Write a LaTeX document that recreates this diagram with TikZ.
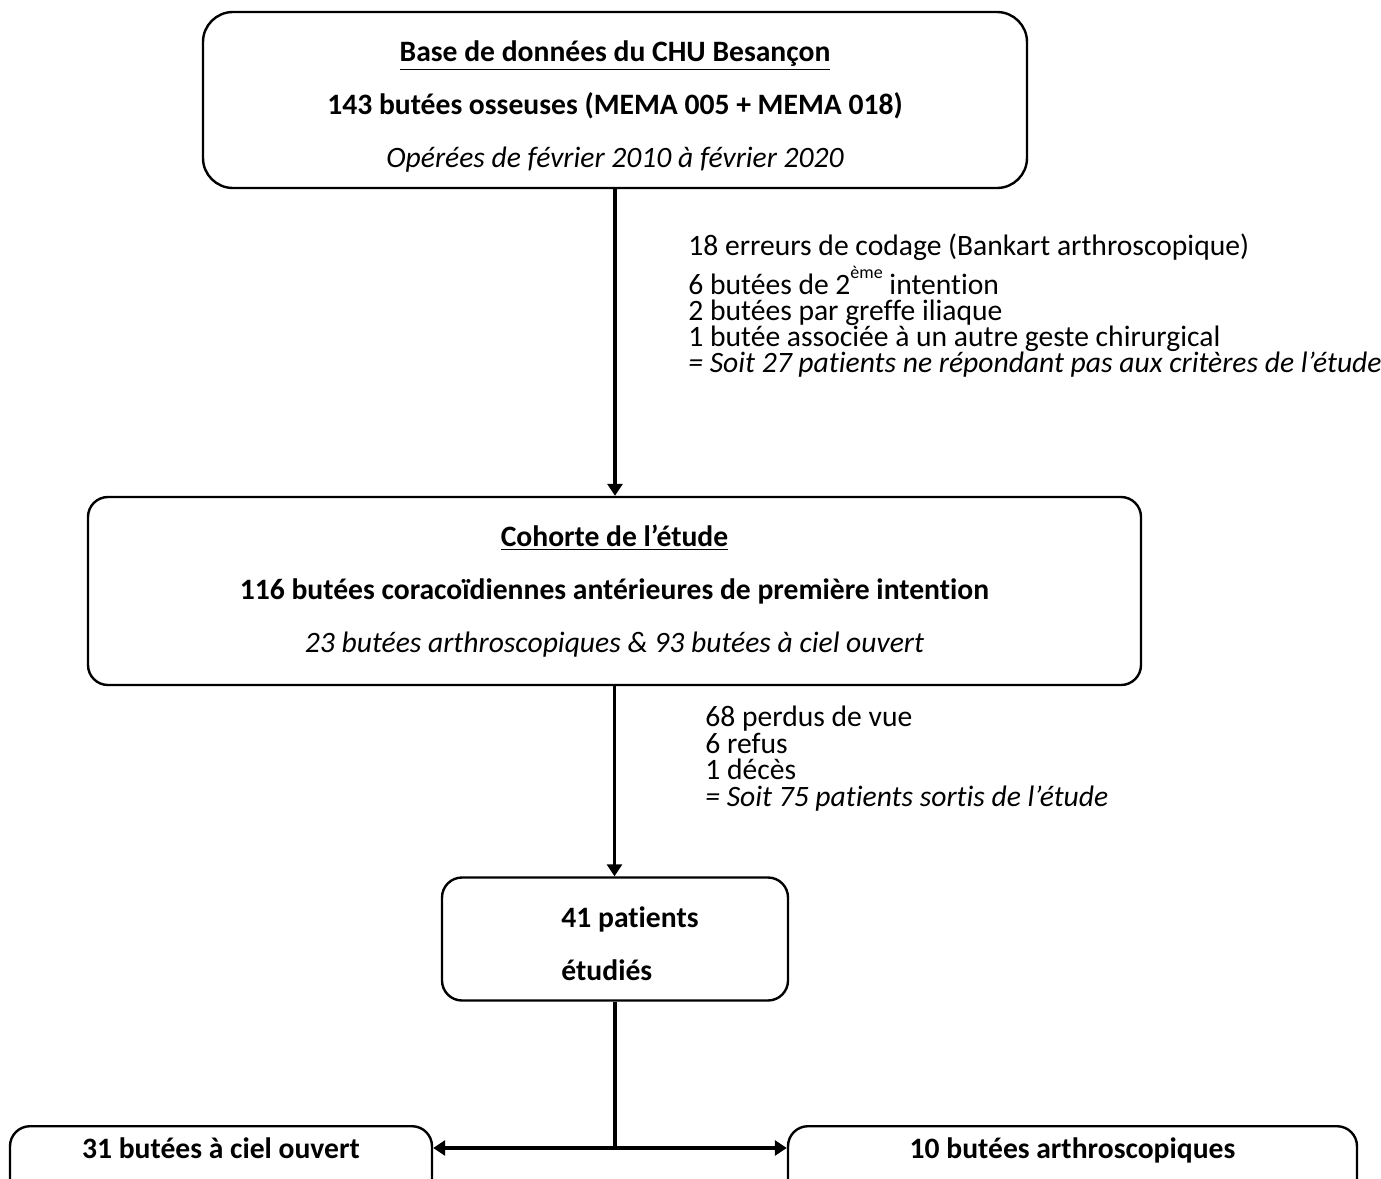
\documentclass[tikz,border=0pt]{standalone}
\usepackage{fontspec}
\setmainfont{Carlito}[Ligatures=NoCommon]
\usetikzlibrary{arrows.meta,positioning}

\begin{document}
\begin{tikzpicture}[x=0.5pt,y=-0.5pt,
  box/.style={draw, line width=1.2pt, rounded corners=10pt, align=center, font=\fontsize{14.8}{26.5}\selectfont},
  leaf/.style={draw, line width=1.2pt, rounded corners=10pt, anchor=north, inner ysep=0pt, text height=16pt, text depth=45pt, font=\bfseries\fontsize{14.8}{14.8}\selectfont},
  item/.style={anchor=base west, inner sep=0pt, text height=10pt, text depth=2.5pt, font=\fontsize{14.8}{14.8}\selectfont},
  flow/.style={line width=1.8pt, -{Triangle[length=6pt,width=7.5pt]}}]
\useasboundingbox (0,0) rectangle (1381,1178);
\clip (0,0) rectangle (1381,1178);

\node[box, rounded corners=15pt, minimum width=412pt, minimum height=88pt] (base) at (615,100) {\rule{0pt}{17pt}\textbf{\underline{Base de données du CHU Besançon}}\\ \textbf{143 butées osseuses (MEMA 005 + MEMA 018)}\\ \textit{Opérées de février 2010 à février 2020}};
\node[box, minimum width=526.5pt, minimum height=94pt] (cohort) at (614.5,591) {\textbf{\underline{Cohorte de l’étude}}\\ \textbf{116 butées coracoïdiennes antérieures de première intention}\\ \textit{23 butées arthroscopiques \& 93 butées à ciel ouvert}};
\node[box, align=left, font=\bfseries\fontsize{14.8}{26.5}\selectfont, minimum width=173pt, minimum height=61.5pt] (studied) at (615,939) {\rule{0pt}{15pt}\hspace*{15pt}41 patients\\ \hspace*{15pt}étudiés};
\node[leaf, minimum width=211pt] (open) at (221,1125) {31 butées à ciel ouvert};
\node[leaf, minimum width=284.5pt] (arthro) at (1072.5,1125) {10 butées arthroscopiques};

% exclusions
\foreach \y/\t [count=\i] in {255/{18 erreurs de codage (Bankart arthroscopique)},
  294/{6 butées de 2\raisebox{1.1ex}{\fontsize{9}{9}\selectfont ème} intention},
  320/{2 butées par greffe iliaque},
  346/{1 butée associée à un autre geste chirurgical},
  372/{\textit{= Soit 27 patients ne répondant pas aux critères de l’étude}}}
  \node[item] (ex\i) at (688,\y) {\t};
\foreach \y/\t [count=\i] in {726/{68 perdus de vue}, 753/{6 refus}, 779/{1 décès},
  806/{\textit{= Soit 75 patients sortis de l’étude}}}
  \node[item] (out\i) at (705,\y) {\t};

\coordinate (split) at (615,1148);
\draw[flow] (base.south) -- (base.south |- cohort.north);
\draw[flow] (cohort.south) -- (cohort.south |- studied.north);
\draw[line width=1.8pt] (studied.south -| split) -- (split);
\draw[flow] (split) -- (split -| open.east);
\draw[flow] (split) -- (split -| arthro.west);
\end{tikzpicture}
\end{document}
